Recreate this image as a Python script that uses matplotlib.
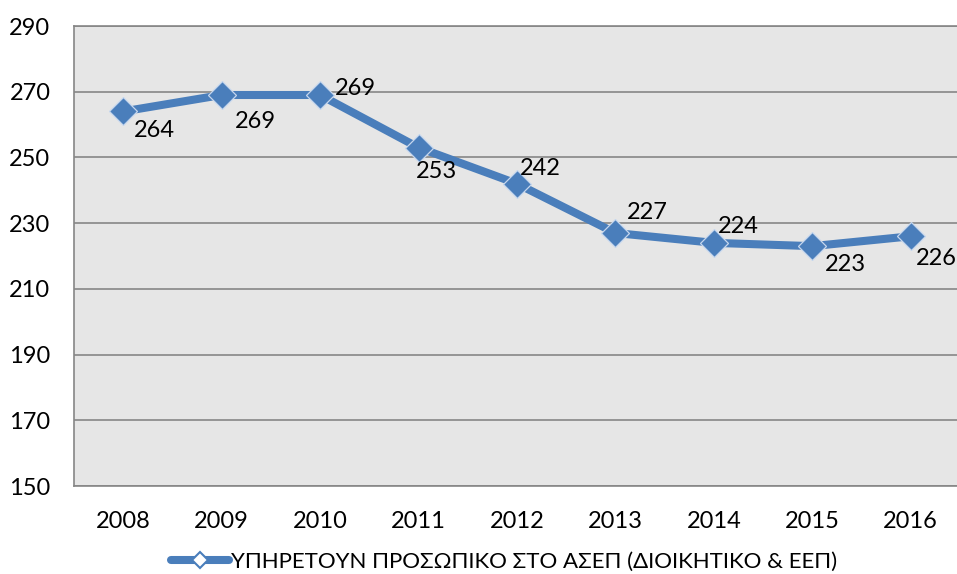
import matplotlib.pyplot as plt
from matplotlib.lines import Line2D

# data
years = ['2008', '2009', '2010', '2011', '2012', '2013', '2014', '2015', '2016']
staff = [264, 269, 269, 253, 242, 227, 224, 223, 226]
yticks = [150, 170, 190, 210, 230, 250, 270, 290]
series_name = 'ΥΠΗΡΕΤΟΥΝ ΠΡΟΣΩΠΙΚΟ ΣΤΟ ΑΣΕΠ (ΔΙΟΙΚΗΤΙΚΟ & ΕΕΠ)'
# label offsets in pixels (dx, dy)
lab_off = [(31, -19), (34, -26), (35, 7), (18, -24), (23, 15),
           (32, 21), (24, 16), (33, -18), (26, -22)]

plt.rcParams['font.family'] = ['Lato', 'Open Sans', 'DejaVu Sans']
blue = '#4A7EBB'
grid = '#868686'

fig = plt.figure(figsize=(9.57, 5.74), dpi=100)
ax = fig.add_axes([74/957, 1-486/574, 1-74/957, 460/574])
ax.set_facecolor('#E6E6E6')

x = list(range(len(years)))
ax.plot(x, staff, color=blue, lw=5.8, marker='D', ms=14,
        mfc=blue, mec='#C6D7EE', mew=0.9, zorder=3)

for i, v in enumerate(staff):
    ax.annotate(str(v), (x[i], v), xytext=lab_off[i], textcoords='offset pixels',
                ha='center', va='center', fontsize=17, color='black', zorder=4)

ax.set_ylim(150, 290)
ax.set_yticks(yticks)
ax.set_xlim(-0.5, 8.47)
ax.set_xticks(x)
ax.set_xticklabels(years)
ax.yaxis.grid(True, color=grid, lw=1.2)
ax.set_axisbelow(True)
ax.tick_params(axis='both', length=0, labelsize=17)
ax.tick_params(axis='y', pad=17)
ax.tick_params(axis='x', pad=18)
for s in ['left', 'bottom', 'top']:
    ax.spines[s].set_color(grid)
    ax.spines[s].set_linewidth(1.2)
ax.spines['right'].set_visible(False)

handle = Line2D([], [], color=blue, lw=5.8, solid_capstyle='round',
                marker='D', ms=8, mfc='white', mec=blue, mew=1.5)
fig.legend([handle], [series_name], loc='center',
           bbox_to_anchor=(0.527, 1-562/574), frameon=False,
           fontsize=16, handlelength=2.6, handletextpad=0.1, borderpad=0)

fig.savefig('out.png', dpi=100)
